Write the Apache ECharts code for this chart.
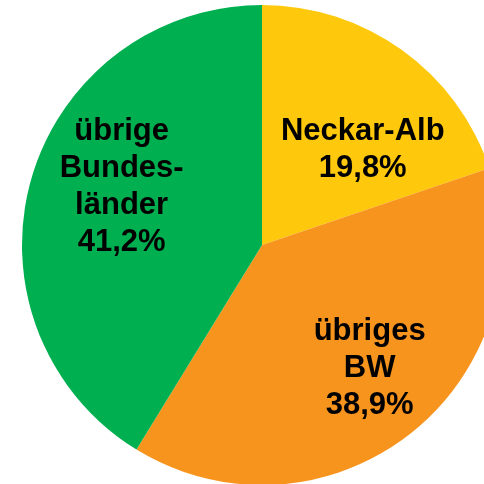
<!DOCTYPE html>
<html>
<head>
<meta charset="utf-8">
<style>
  html, body { margin: 0; padding: 0; background: #ffffff; }
  #chart { width: 484px; height: 484px; }
</style>
<script src="https://cdn.jsdelivr.net/npm/echarts@6/dist/echarts.min.js"></script>
</head>
<body>
<div id="chart"></div>
<script>
// Herkunft nach Region (Anteile in %)
const regions = ['Neckar-Alb', 'übriges\nBW', 'übrige\nBundes-\nländer'];
const shares = [19.8, 38.9, 41.2];
const sliceColors = ['#FEC80C', '#F7941E', '#00B050'];
// label shifts from the default inside position
const labelOffsets = [[29, 5], [31, 27], [-22, -25]];

const chart = echarts.init(document.getElementById('chart'), null, { renderer: 'canvas' });

chart.setOption({
  animation: false,
  series: [{
    type: 'pie',
    center: [262, 245],
    radius: 240,
    startAngle: 90,
    clockwise: true,
    avoidLabelOverlap: false,
    emphasis: { disabled: true },
    label: {
      show: true,
      position: 'inside',
      color: '#000000',
      fontFamily: 'Liberation Sans, Arial, sans-serif',
      fontWeight: 'bold',
      fontSize: 31,
      lineHeight: 37,
      align: 'center',
      formatter: p => p.name + '\n' + p.value.toFixed(1).replace('.', ',') + '%'
    },
    labelLine: { show: false },
    data: regions.map((name, i) => ({
      name: name,
      value: shares[i],
      itemStyle: { color: sliceColors[i] },
      label: { offset: labelOffsets[i] }
    }))
  }]
});
</script>
</body>
</html>
